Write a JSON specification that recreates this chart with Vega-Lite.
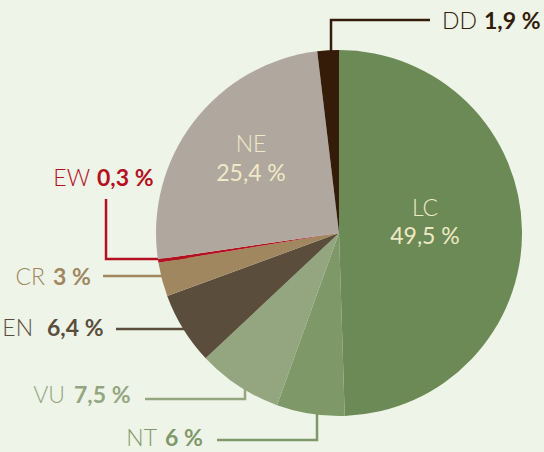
{
  "$schema": "https://vega.github.io/schema/vega-lite/v6.json",
  "width": 544,
  "height": 452,
  "autosize": {"type": "fit", "contains": "padding"},
  "padding": 0,
  "background": "#eef4e8",
  "config": {"view": {"stroke": null}},
  "datasets": {
    "slices": [
      {"cat": "LC", "pct": 49.5, "rank": 1},
      {"cat": "NT", "pct": 6.0, "rank": 2},
      {"cat": "VU", "pct": 7.5, "rank": 3},
      {"cat": "EN", "pct": 6.4, "rank": 4},
      {"cat": "CR", "pct": 3.0, "rank": 5},
      {"cat": "EW", "pct": 0.3, "rank": 6},
      {"cat": "NE", "pct": 25.4, "rank": 7},
      {"cat": "DD", "pct": 1.9, "rank": 8}
    ],
    "outside": [
      {"cat": "DD", "code": "DD", "value": "1,9 %", "xc": 75.4, "xv": 79.23, "y": 111.47},
      {"cat": "EW", "code": "EW", "value": "0,3 %", "xc": -136.05, "xv": -132.23, "y": 25.68},
      {"cat": "CR", "code": "CR", "value": "3 %", "xc": -160.64, "xv": -156.27, "y": -28.41},
      {"cat": "EN", "code": "EN", "value": "6,4 %", "xc": -167.2, "xv": -159.55, "y": -56.28},
      {"cat": "VU", "code": "VU", "value": "7,5 %", "xc": -149.71, "xv": -144.8, "y": -92.89},
      {"cat": "NT", "code": "NT", "value": "6 %", "xc": -99.44, "xv": -95.07, "y": -116.38}
    ],
    "inside": [
      {"cat": "LC", "code": "LC", "value": "49,5 %", "x": 46.99, "yc": 9.29, "yv": -6.01},
      {"cat": "NE", "code": "NE", "value": "25,4 %", "x": -48.08, "yc": 44.26, "yv": 28.41}
    ],
    "leaders": [
      {"cat": "DD", "seq": 1, "x": -4.37, "y": 89.06},
      {"cat": "DD", "seq": 2, "x": -4.37, "y": 116.38},
      {"cat": "DD", "seq": 3, "x": 49.72, "y": 116.38},
      {"cat": "EW", "seq": 1, "x": -127.31, "y": 18.58},
      {"cat": "EW", "seq": 2, "x": -127.31, "y": -14.21},
      {"cat": "EW", "seq": 3, "x": -75.95, "y": -14.21},
      {"cat": "CR", "seq": 1, "x": -128.95, "y": -23.5},
      {"cat": "CR", "seq": 2, "x": -75.95, "y": -23.5},
      {"cat": "EN", "seq": 1, "x": -121.85, "y": -52.45},
      {"cat": "EN", "seq": 2, "x": -65.0, "y": -52.45},
      {"cat": "VU", "seq": 1, "x": -106.0, "y": -90.7},
      {"cat": "VU", "seq": 2, "x": -51.36, "y": -90.7},
      {"cat": "VU", "seq": 3, "x": -51.36, "y": -58.46},
      {"cat": "NT", "seq": 1, "x": -66.66, "y": -113.1},
      {"cat": "NT", "seq": 2, "x": -12.02, "y": -113.1},
      {"cat": "NT", "seq": 3, "x": -12.02, "y": -80.32}
    ]
  },
  "layer": [
    {
      "data": {"name": "leaders"},
      "mark": {"type": "line", "strokeWidth": 2.5, "strokeCap": "butt", "strokeJoin": "miter"},
      "encoding": {
        "x": {"field": "x", "type": "quantitative", "scale": {"domain": [-185.25, 112.02], "nice": false, "zero": false}, "axis": null},
        "y": {"field": "y", "type": "quantitative", "scale": {"domain": [-119.67, 127.32], "nice": false, "zero": false}, "axis": null},
        "detail": {"field": "cat"},
        "order": {"field": "seq"},
        "color": {"field": "cat", "type": "nominal", "legend": null,
          "scale": {"domain": ["LC", "NT", "VU", "EN", "CR", "EW", "NE", "DD"],
                    "range": ["#6b8a55", "#7f9868", "#93a67f", "#5a4d3c", "#a08760", "#b5101f", "#b0a79e", "#341c08"]}}
      }
    },
    {
      "data": {"name": "slices"},
      "mark": {"type": "arc", "outerRadius": 183},
      "encoding": {
        "x": {"datum": 0, "type": "quantitative"},
        "y": {"datum": 0, "type": "quantitative"},
        "theta": {"field": "pct", "type": "quantitative", "stack": true},
        "order": {"field": "rank"},
        "color": {"field": "cat", "type": "nominal", "legend": null}
      }
    },
    {
      "data": {"name": "inside"},
      "mark": {"type": "text", "font": "Lato", "fontSize": 23, "fontWeight": 300, "align": "center", "baseline": "alphabetic", "color": "#f0e9c6"},
      "encoding": {
        "x": {"field": "x", "type": "quantitative"},
        "y": {"field": "yc", "type": "quantitative"},
        "text": {"field": "code"}
      }
    },
    {
      "data": {"name": "inside"},
      "mark": {"type": "text", "font": "Lato", "fontSize": 23, "fontWeight": 400, "align": "center", "baseline": "alphabetic", "color": "#f0e9c6"},
      "encoding": {
        "x": {"field": "x", "type": "quantitative"},
        "y": {"field": "yv", "type": "quantitative"},
        "text": {"field": "value"}
      }
    },
    {
      "data": {"name": "outside"},
      "mark": {"type": "text", "font": "Lato", "fontSize": 23, "fontWeight": 300, "align": "right", "baseline": "alphabetic"},
      "encoding": {
        "x": {"field": "xc", "type": "quantitative"},
        "y": {"field": "y", "type": "quantitative"},
        "text": {"field": "code"},
        "color": {"field": "cat", "type": "nominal", "legend": null}
      }
    },
    {
      "data": {"name": "outside"},
      "mark": {"type": "text", "font": "Lato", "fontSize": 23, "fontWeight": "bold", "align": "left", "baseline": "alphabetic"},
      "encoding": {
        "x": {"field": "xv", "type": "quantitative"},
        "y": {"field": "y", "type": "quantitative"},
        "text": {"field": "value"},
        "color": {"field": "cat", "type": "nominal", "legend": null}
      }
    }
  ]
}
